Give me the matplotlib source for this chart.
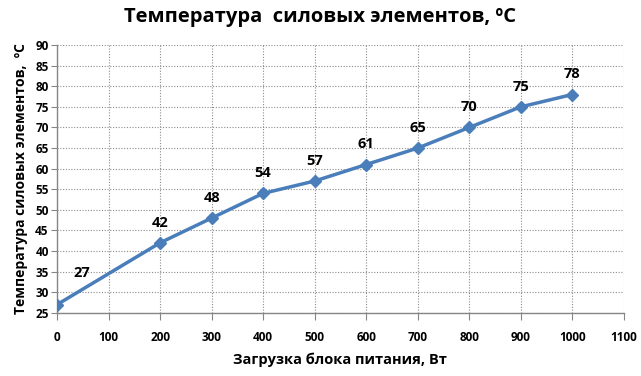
import matplotlib
matplotlib.use("Agg")
import matplotlib.pyplot as plt

# load (W) vs temperature (C)
load_w = [0, 200, 300, 400, 500, 600, 700, 800, 900, 1000]
temp_c = [27, 42, 48, 54, 57, 61, 65, 70, 75, 78]
x_ticks = list(range(0, 1101, 100))
y_ticks = list(range(25, 91, 5))

plt.rcParams['font.family'] = ['Open Sans', 'DejaVu Sans']
plt.rcParams['font.weight'] = 'bold'

fig = plt.figure(figsize=(6.41, 3.76), dpi=100)
ax = fig.add_axes([0.089, 0.168, 0.884, 0.712])

line_color = '#4a7ebb'
ax.plot(load_w, temp_c, color=line_color, lw=2.5, marker='D', ms=6,
        mec=line_color, mfc=line_color, zorder=3)

for i, (x, y) in enumerate(zip(load_w, temp_c)):
    if i == 0:
        # first label sits off to the right of the point
        ax.annotate(str(y), (x, y), xytext=(18, 23), textcoords='offset points',
                    ha='center', va='center', fontsize=10.5, fontweight='bold')
    else:
        ax.annotate(str(y), (x, y), xytext=(0, 14.5), textcoords='offset points',
                    ha='center', va='center', fontsize=10.5, fontweight='bold')

ax.set_xlim(0, 1100)
ax.set_ylim(25, 90)
ax.set_xticks(x_ticks)
ax.set_yticks(y_ticks)
ax.tick_params(axis='x', labelsize=8.5, pad=8, length=5, color='#868686')
ax.tick_params(axis='y', labelsize=8.5, pad=2, length=4, color='#868686')
for lab in ax.get_xticklabels() + ax.get_yticklabels():
    lab.set_fontweight('bold')

ax.grid(True, color='#8c8c8c', ls=(0, (1, 1.5)), lw=0.8)
ax.set_axisbelow(True)
for s in ['top', 'right']:
    ax.spines[s].set_visible(False)
for s in ['left', 'bottom']:
    ax.spines[s].set_color('#868686')
    ax.spines[s].set_linewidth(1)

fig.text(0.5, 0.955, 'Температура  силовых элементов, ºC', fontsize=14.5,
         fontweight='bold', ha='center', va='center')
ax.set_xlabel('Загрузка блока питания, Вт', fontsize=10.5, fontweight='bold',
              labelpad=6)
ax.set_ylabel('Температура силовых элементов,  ºC', fontsize=10,
              fontweight='bold', labelpad=5)

fig.savefig('out.png', dpi=100, facecolor='white')
